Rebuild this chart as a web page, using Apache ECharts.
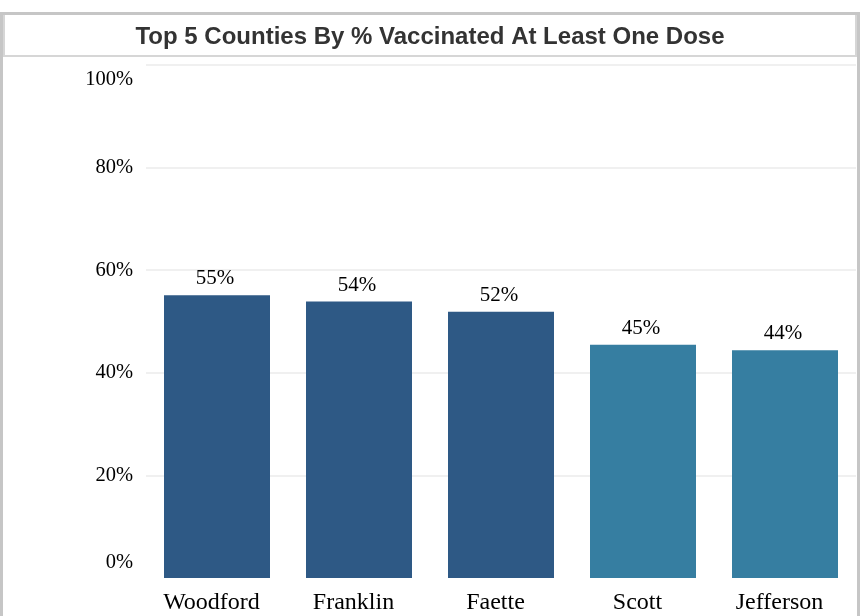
<!DOCTYPE html>
<html>
<head>
<meta charset="utf-8">
<script src="https://cdn.jsdelivr.net/npm/echarts@6/dist/echarts.min.js"></script>
<style>
  html, body { margin: 0; padding: 0; background: #fff; }
  #wrap { position: relative; width: 860px; height: 616px; overflow: hidden; }
  #frame { position: absolute; left: 0; top: 12px; width: 854px; height: 700px;
           border: 3px solid #c6c6c6; box-sizing: content-box; }
  #titlebox { position: absolute; left: 3px; top: 15px; width: 850px; height: 40px;
              border: 2px solid #d6d6d6; border-top: none; }
  #chart { position: absolute; left: 0; top: 0; width: 860px; height: 616px; }
</style>
</head>
<body>
<div id="wrap">
  <div id="frame"></div>
  <div id="titlebox"></div>
  <div id="chart"></div>
</div>
<script>
const titleText = 'Top 5 Counties By % Vaccinated At Least One Dose';
const counties = ['Woodford', 'Franklin', 'Faette', 'Scott', 'Jefferson'];
const pctVaccinated = [55.1, 53.9, 51.9, 45.49, 44.4];
const barColors = ['#2e5985', '#2e5985', '#2e5985', '#367ea1', '#367ea1'];
const yTicks = [0, 20, 40, 60, 80, 100];

const serif = 'Liberation Serif, Times New Roman, serif';
const chart = echarts.init(document.getElementById('chart'), null, { renderer: 'canvas' });
chart.setOption({
  backgroundColor: 'transparent',
  animation: false,
  title: {
    text: titleText,
    left: 'center',
    top: 20,
    textStyle: { fontFamily: 'Liberation Sans, Arial, sans-serif', fontWeight: 'bold', fontSize: 24, color: '#333333' }
  },
  grid: { left: 146, right: 4, top: 65, bottom: 38, containLabel: false },
  xAxis: {
    type: 'category',
    data: counties,
    axisLine: { show: false },
    axisTick: { show: false },
    axisLabel: { fontFamily: serif, fontSize: 24, color: '#000', margin: 13, padding: [0, 11, 0, 0] }
  },
  yAxis: {
    type: 'value',
    min: yTicks[0],
    max: yTicks[yTicks.length - 1],
    interval: 20,
    axisLine: { show: false },
    axisTick: { show: false },
    splitLine: { showMinLine: false, lineStyle: { color: '#f0f0f0', width: 2 } },
    axisLabel: {
      margin: 13,
      fontFamily: serif,
      fontSize: 20.5,
      color: '#000',
      formatter: function (v) {
        if (v === yTicks[yTicks.length - 1]) return '{top|' + v + '%}';
        if (v === yTicks[0]) return '{bot|' + v + '%}';
        return v + '%';
      },
      rich: {
        top: { fontFamily: serif, fontSize: 20.5, color: '#000', padding: [30, 0, 0, 0] },
        bot: { fontFamily: serif, fontSize: 20.5, color: '#000', padding: [0, 0, 30, 0] }
      }
    }
  },
  series: [{
    type: 'bar',
    data: pctVaccinated.map((v, i) => ({ value: v, itemStyle: { color: barColors[i] } })),
    barWidth: 106,
    label: {
      show: true,
      position: 'top',
      distance: 6,
      padding: [0, 4, 0, 0],
      fontFamily: serif,
      fontSize: 21,
      color: '#000',
      formatter: p => Math.round(p.value) + '%'
    }
  }]
});
</script>
</body>
</html>
